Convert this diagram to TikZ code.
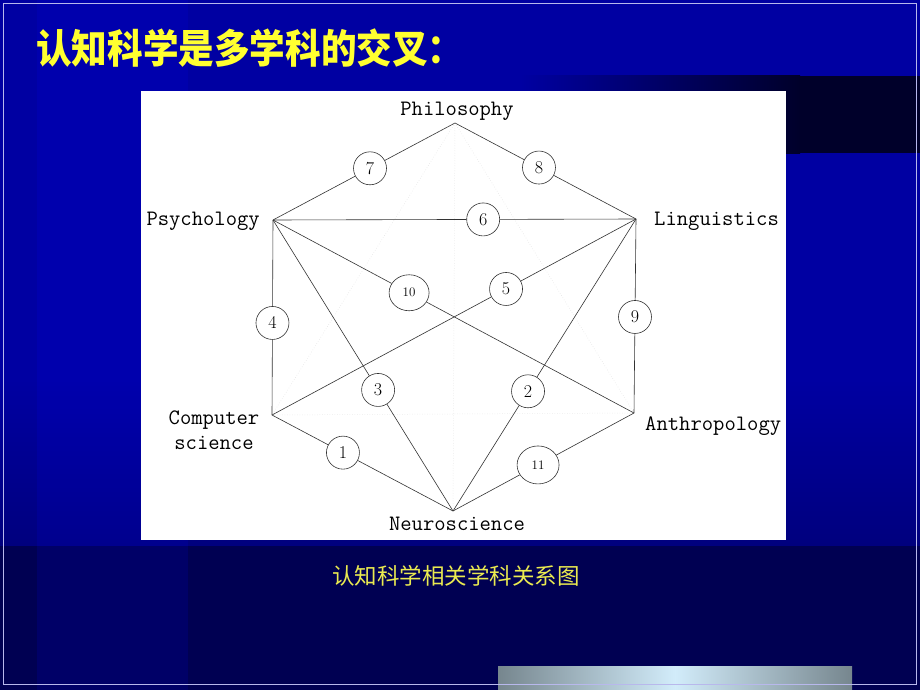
\documentclass[tikz,border=0pt]{standalone}
\usepackage{fontspec}
\newfontfamily\cjk{Noto Sans CJK SC}
\usetikzlibrary{shapes.geometric,calc}
\definecolor{bgblue}{HTML}{0000A2}
\definecolor{bgmid}{HTML}{00007E}
\definecolor{bgdark}{HTML}{000052}
\definecolor{banddark}{HTML}{00002A}
\definecolor{titleyellow}{HTML}{FFFF30}
\definecolor{capyellow}{HTML}{EAEA50}
\definecolor{framecol}{HTML}{B8B8EC}
\definecolor{barside}{HTML}{76868E}
\definecolor{barmid}{HTML}{D2ECFA}
\begin{document}
\begin{tikzpicture}[x=1pt,y=-1pt,
  num/.style={circle,draw=black!80,fill=white,line width=0.6pt,minimum size=33pt,inner sep=0pt,font=\fontsize{18}{18}\selectfont},
  numw/.style={ellipse,draw=black!80,fill=white,line width=0.6pt,minimum width=41pt,minimum height=37pt,inner sep=0pt,font=\fontsize{13}{13}\selectfont},
  lab/.style={inner sep=0pt,font=\fontsize{22}{25}\selectfont\ttfamily},
  edge/.style={draw=black!80,line width=0.6pt},
  faint/.style={draw=black!12,line width=0.5pt,dotted}]
\useasboundingbox (0,0) rectangle (920,690);
% background
\fill[bgdark] (0,0) rectangle (920,690);
\fill[bgblue] (0,0) rectangle (920,380);
\shade[top color=bgblue,bottom color=bgmid] (0,379) rectangle (920,545);
\fill[blue,opacity=0.12] (37,0) rectangle (188,690);
% dark band on the right
\shade[left color=bgblue,right color=banddark] (520,76) rectangle (800,153);
\fill[banddark] (799,76) rectangle (920,153);
% bottom bar
\shade[left color=barside,right color=barside,middle color=barmid] (498,666) rectangle (852,690);
% frame
\draw[framecol,line width=1.3pt] (3.5,3.5) rectangle (916.5,684.5);
% title
\node[anchor=base west,inner sep=0pt,text=titleyellow,font=\fontsize{40}{40}\selectfont\cjk\bfseries] (title) at (36,64) {\scalebox{0.89}[1]{认知科学是多学科的交叉：}};
% white panel
\fill[white] (141,91) rectangle (786,540);
% vertices
\coordinate (Phil) at (455,123);
\coordinate (Psy) at (273,220);
\coordinate (Ling) at (636,219);
\coordinate (CS) at (272,415);
\coordinate (Neuro) at (453,511);
\coordinate (Anth) at (634,413);
% faint hidden lines
\draw[faint] (Phil) -- (Neuro);
\draw[faint] (Phil) -- (CS);
\draw[faint] (Phil) -- (Anth);
\draw[faint] (CS) -- (Anth);
% labels
\node[lab,anchor=base] (lPhil) at (457,116) {Philosophy};
\node[lab,anchor=base east] (lPsy) at (260,225) {Psychology};
\node[lab,anchor=base west] (lLing) at (654,225) {Linguistics};
\node[lab,anchor=center,align=center] (lCS) at (214,430) {Computer\\science};
\node[lab,anchor=base] (lNeuro) at (457,530) {Neuroscience};
\node[lab,anchor=base west] (lAnth) at (645,430) {Anthropology};
% numbered circles
\node[num] (c7) at ($(Psy)!0.533!(Phil)$) {7};
\node[num] (c8) at ($(Phil)!0.464!(Ling)$) {8};
\node[num] (c6) at ($(Psy)!0.579!(Ling)$) {6};
\node[numw,minimum width=40pt,minimum height=36pt] (c10) at ($(Psy)!0.377!(Anth)$) {10};
\node[num] (c5) at ($(Ling)!0.357!(CS)$) {5};
\node[num] (c4) at ($(Psy)!0.528!(CS)$) {4};
\node[num] (c9) at ($(Ling)!0.505!(Anth)$) {9};
\node[num] (c3) at ($(Psy)!0.584!(Neuro)$) {3};
\node[num] (c2) at ($(Ling)!0.59!(Neuro)$) {2};
\node[num] (c1) at ($(CS)!0.392!(Neuro)$) {1};
\node[numw,minimum width=42pt,minimum height=38pt] (c11) at ($(Neuro)!0.47!(Anth)$) {11};
% connectors
\draw[edge] (Psy) -- (c7) -- (Phil);
\draw[edge] (Phil) -- (c8) -- (Ling);
\draw[edge] (Psy) -- (c6) -- (Ling);
\draw[edge] (Psy) -- (c10) -- (Anth);
\draw[edge] (Ling) -- (c5) -- (CS);
\draw[edge] (Psy) -- (c4) -- (CS);
\draw[edge] (Ling) -- (c9) -- (Anth);
\draw[edge] (Psy) -- (c3) -- (Neuro);
\draw[edge] (Ling) -- (c2) -- (Neuro);
\draw[edge] (CS) -- (c1) -- (Neuro);
\draw[edge] (Neuro) -- (c11) -- (Anth);
% caption
\node[inner sep=0pt,text=capyellow,font=\fontsize{22.5}{22.5}\selectfont\cjk] (cap) at (456,576) {认知科学相关学科关系图};
\end{tikzpicture}
\end{document}
